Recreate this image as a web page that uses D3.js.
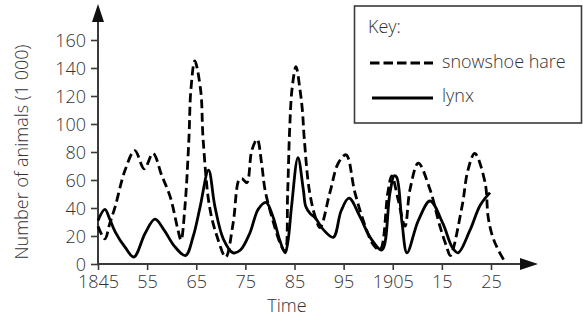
<!DOCTYPE html>
<html>
<head>
<meta charset="utf-8">
<script src="https://cdn.jsdelivr.net/npm/d3@7"></script>
<style>
  html, body { margin: 0; padding: 0; background: #fff; }
  svg { display: block; }
  text { font-family: "Open Sans", sans-serif; font-weight: 300; fill: #333; }
</style>
</head>
<body>
<svg id="chart" width="583" height="320"></svg>
<script>
// ---- data ----
const hareYears = [1845, 1846.4, 1847.4, 1848.5, 1850.5, 1852.5, 1854.4, 1856.2, 1858, 1859.7, 1861.3, 1861.9,
  1862.7, 1863.5, 1863.9, 1864.7, 1865.9, 1866.4, 1867.7, 1869.2, 1871, 1872.5, 1873.7, 1874.3, 1875.3, 1876.3,
  1877.4, 1878.3, 1879, 1880.6, 1882.3, 1883.1, 1883.6, 1884, 1884.5, 1885.3, 1886.1, 1886.6, 1887, 1888, 1889.2,
  1890.2, 1892.2, 1893.9, 1895.5, 1897.3, 1899.4, 1901, 1902.4, 1904, 1904.8, 1906.1, 1907.5, 1908.5, 1910.2,
  1912.6, 1914.6, 1916, 1916.7, 1919.1, 1920.3, 1921.7, 1923.8, 1924.4, 1925.2, 1926.2, 1927.9];
const hareValues = [27, 18, 29, 41, 67, 81, 68, 79, 63, 48, 24, 17,
  41, 89, 124, 145, 124, 89, 41, 20, 5, 29, 60, 61, 58, 81,
  89, 72, 53, 31, 13, 9, 50, 95, 125, 141, 125, 110, 89, 53, 34,
  26, 51, 72, 78, 51, 27, 14, 10, 51, 63, 46, 27, 53, 72,
  53, 27, 12, 6, 41, 67, 79, 58, 34, 21, 12, 1];

const lynxYears = [1845, 1846.4, 1847.4, 1848.5, 1850.5, 1852.3, 1854.6, 1856.6, 1858.5, 1860.5, 1862.8,
  1864.4, 1865.8, 1867.5, 1868.8, 1870.5, 1872.5, 1874, 1875.9, 1877.6, 1879.2, 1880.6, 1882, 1883.1,
  1883.7, 1884.4, 1885.7, 1886.8, 1887.3, 1888.2, 1889.2, 1891, 1892.9, 1894.5, 1896.1, 1898.3, 1900.4, 1902.8,
  1904.4, 1905.3, 1905.8, 1906.9, 1907.9, 1910.2, 1912.6, 1915.2, 1917.1, 1918.3, 1920.7, 1922.8, 1924.8];
const lynxValues = [31, 39, 32, 23, 12, 5, 22, 32, 24, 13, 6,
  20, 41, 67, 41, 18, 8, 10, 22, 39, 44, 34, 17, 8,
  17, 41, 76, 53, 41, 36, 33, 24, 19, 38, 47, 34, 19, 10,
  50, 63, 62, 29, 8, 31, 45, 29, 12, 8, 24, 42, 51];

const xTicks = [1845, 1855, 1865, 1875, 1885, 1895, 1905, 1915, 1925];
const xTickLabels = ["1845", "55", "65", "75", "85", "95", "1905", "15", "25"];
const yTicks = [0, 20, 40, 60, 80, 100, 120, 140, 160];
const seriesNames = ["snowshoe hare", "lynx"];

// ---- layout ----
const svg = d3.select("#chart");
const x = d3.scaleLinear().domain([1845, 1925]).range([98, 491]);
const y = d3.scaleLinear().domain([0, 160]).range([264, 40]);
const axisColor = "#3a3a3a";
const fontSize = 18;

// axes
const gx = svg.append("g").attr("transform", `translate(0,${y(0)})`)
  .call(d3.axisBottom(x).tickValues(xTicks).tickFormat((d, i) => xTickLabels[i]).tickSize(6).tickSizeOuter(0));
gx.select(".domain").remove();
gx.selectAll(".tick line").attr("stroke", axisColor).attr("stroke-width", 1.6);
gx.selectAll(".tick text").attr("font-size", fontSize).attr("font-family", "Open Sans").attr("font-weight", 300)
  .attr("fill", "#333").attr("y", 0).attr("dy", 24);

const gy = svg.append("g").attr("transform", `translate(${x(1845)},0)`)
  .call(d3.axisLeft(y).tickValues(yTicks).tickSize(7).tickSizeOuter(0));
gy.select(".domain").remove();
gy.selectAll(".tick line").attr("stroke", axisColor).attr("stroke-width", 1.6);
gy.selectAll(".tick text").attr("font-size", fontSize).attr("font-family", "Open Sans").attr("font-weight", 300)
  .attr("fill", "#333").attr("x", -12).attr("dy", "0.35em");

// axis lines with arrows
const x0 = x(1845), y0 = y(0);
svg.append("line").attr("x1", x0).attr("x2", 524).attr("y1", y0).attr("y2", y0)
  .attr("stroke", axisColor).attr("stroke-width", 2);
svg.append("line").attr("x1", x0).attr("x2", x0).attr("y1", y0 + 1).attr("y2", 20)
  .attr("stroke", axisColor).attr("stroke-width", 2);
svg.append("path").attr("d", `M${x0},4 L${x0 - 6},22 L${x0 + 6},22 Z`).attr("fill", "#111");
svg.append("path").attr("d", `M538,${y0} L520,${y0 - 6} L520,${y0 + 6} Z`).attr("fill", "#111");

// axis titles
svg.append("text").attr("x", 287).attr("y", 312).attr("text-anchor", "middle")
  .attr("font-size", fontSize).text("Time");
svg.append("text").attr("transform", "translate(28,152) rotate(-90)").attr("text-anchor", "middle")
  .attr("font-size", fontSize).text("Number of animals (1 000)");

// lines
const line = d3.line().x(d => x(d[0])).y(d => y(d[1])).curve(d3.curveCatmullRom.alpha(0.5));
const hare = hareYears.map((yr, i) => [yr, hareValues[i]]);
const lynx = lynxYears.map((yr, i) => [yr, lynxValues[i]]);

svg.append("path").datum(lynx).attr("d", line).attr("fill", "none")
  .attr("stroke", "#000").attr("stroke-width", 2.8).attr("stroke-linejoin", "round");
svg.append("path").datum(hare).attr("d", line).attr("fill", "none")
  .attr("stroke", "#000").attr("stroke-width", 2.8).attr("stroke-dasharray", "9,4.5");

// legend
svg.append("rect").attr("x", 354.5).attr("y", 6).attr("width", 227).attr("height", 117)
  .attr("fill", "#fff").attr("stroke", axisColor).attr("stroke-width", 1.6);
svg.append("text").attr("x", 368).attr("y", 33).attr("font-size", fontSize).text("Key:");
svg.append("line").attr("x1", 370).attr("x2", 433).attr("y1", 63).attr("y2", 63)
  .attr("stroke", "#000").attr("stroke-width", 2.8).attr("stroke-dasharray", "9.5,4");
svg.append("text").attr("x", 442).attr("y", 68).attr("font-size", fontSize).text(seriesNames[0]);
svg.append("line").attr("x1", 372).attr("x2", 433).attr("y1", 98).attr("y2", 98)
  .attr("stroke", "#000").attr("stroke-width", 2.8);
svg.append("text").attr("x", 442).attr("y", 102).attr("font-size", fontSize).text(seriesNames[1]);
</script>
</body>
</html>
